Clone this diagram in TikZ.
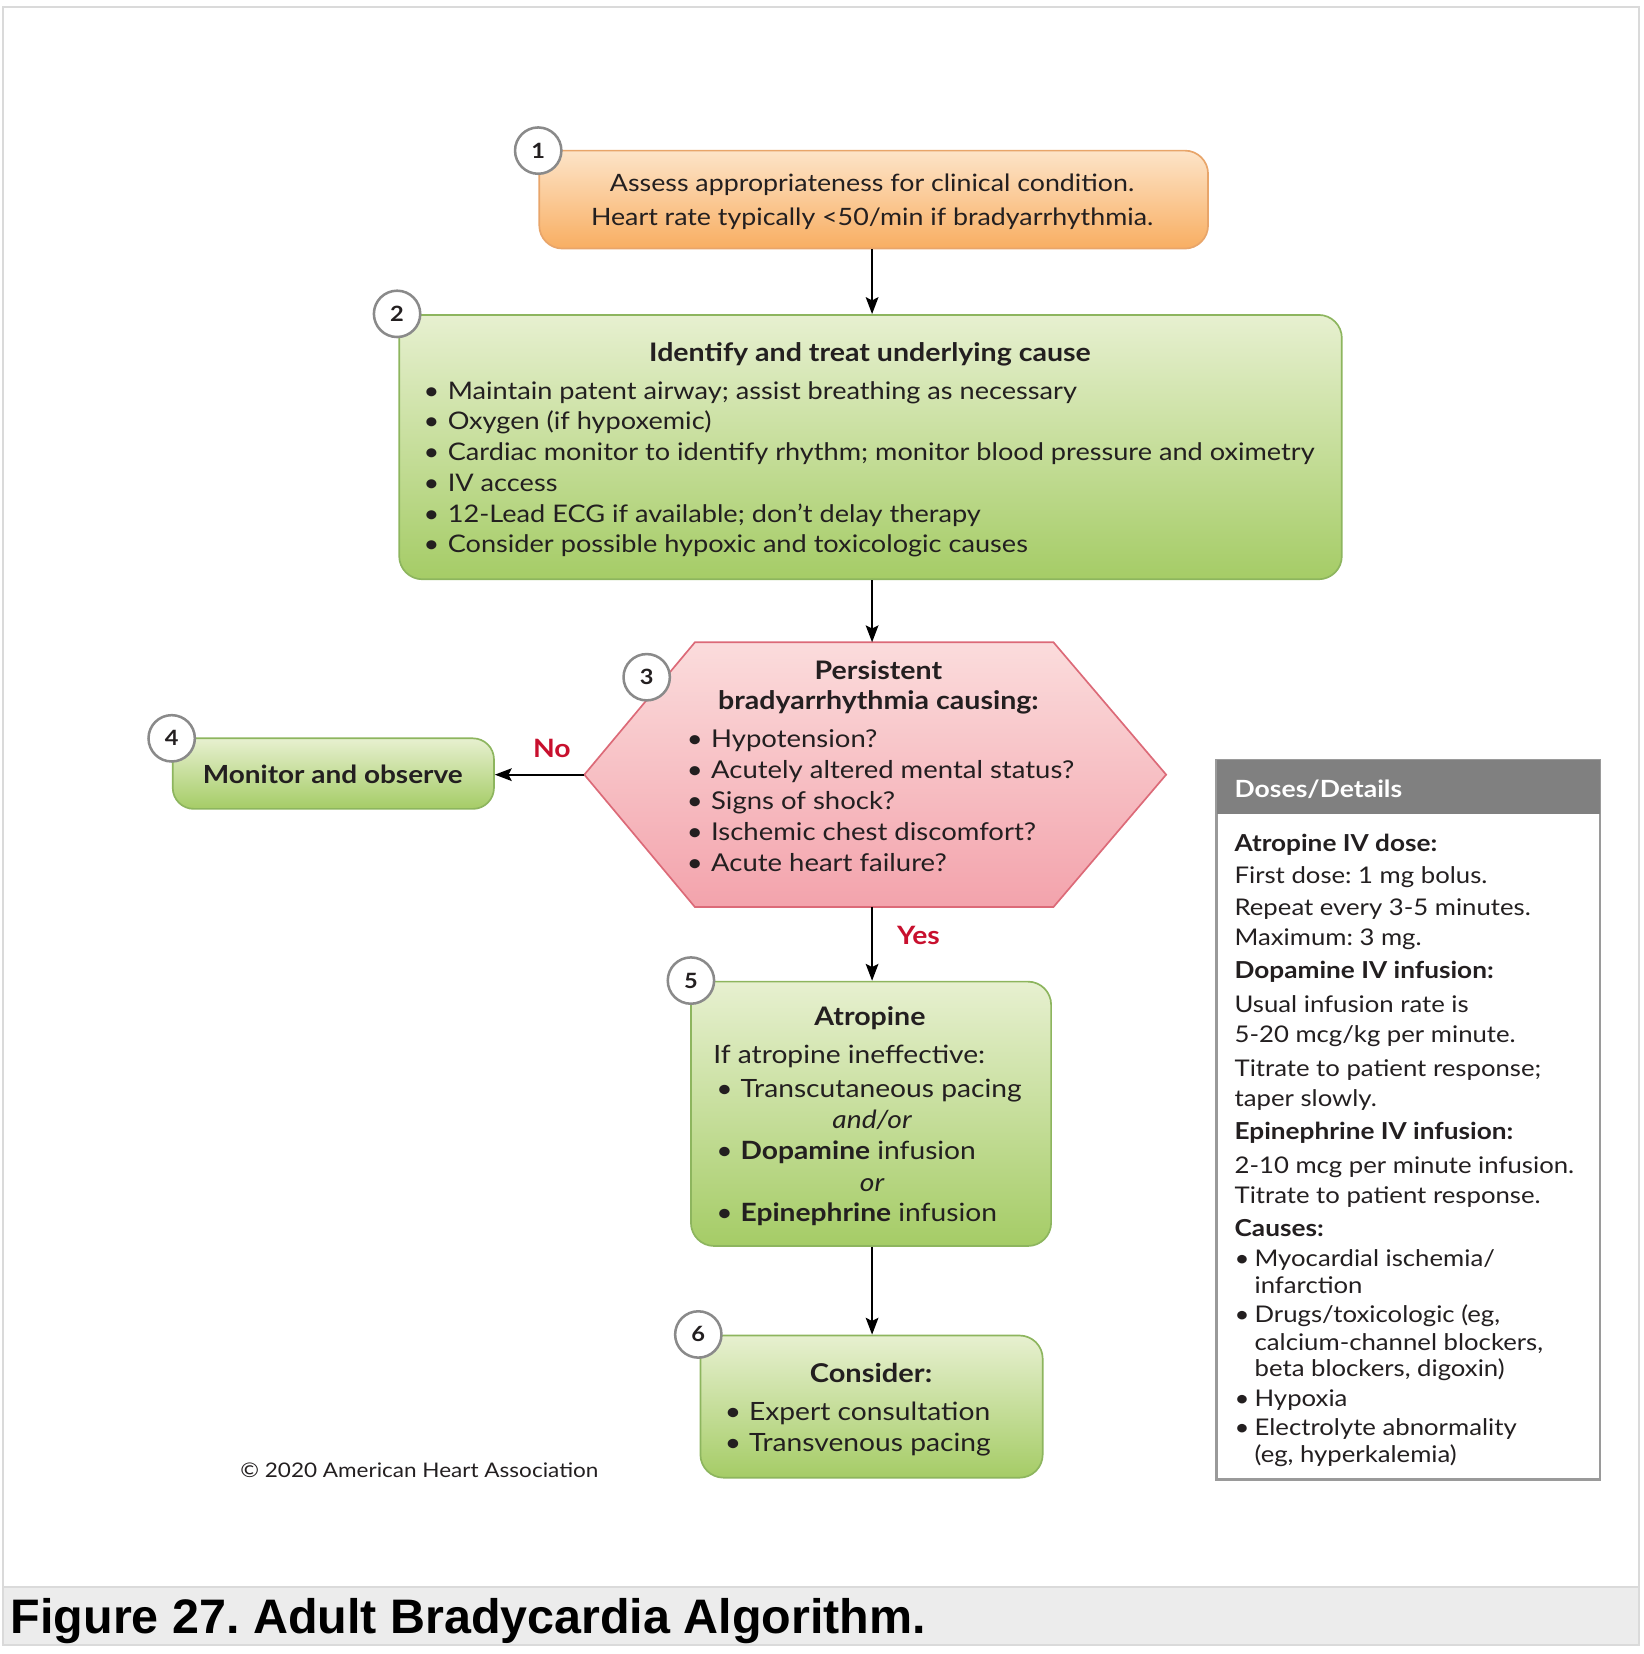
\documentclass[tikz,border=0pt]{standalone}
\usepackage{fontspec}
\setmainfont{Lato}[FakeStretch=1.12]
\newfontfamily\capfont{Liberation Sans}
\usetikzlibrary{arrows.meta,calc}
\frenchspacing
\definecolor{txt}{HTML}{231F20}
\definecolor{orTop}{HTML}{FDE4C8}
\definecolor{orBot}{HTML}{F8AE62}
\definecolor{orLine}{HTML}{E8A56A}
\definecolor{grTop}{HTML}{E7F0D0}
\definecolor{grBot}{HTML}{A5CC66}
\definecolor{grLine}{HTML}{8DB55E}
\definecolor{pkTop}{HTML}{FBDCDC}
\definecolor{pkBot}{HTML}{F3A3AC}
\definecolor{pkLine}{HTML}{DC6A78}
\definecolor{redlab}{HTML}{C8102E}
\definecolor{numLine}{HTML}{8A8A8A}
\definecolor{hdgray}{HTML}{808080}
\definecolor{dline}{HTML}{9A9A9A}
\definecolor{framegray}{HTML}{DADADA}
\definecolor{capgray}{HTML}{ECECEC}
\newcommand{\bul}[1]{\makebox[#1][l]{•}}
\newcommand{\fs}[1]{\fontsize{#1}{#1}\selectfont}
\tikzset{
  every node/.style={text=txt},
  gbox/.style={draw=grLine, line width=1.6pt, rounded corners=22pt, top color=grTop, bottom color=grBot, inner sep=0pt},
  obox/.style={draw=orLine, line width=1.6pt, rounded corners=22pt, top color=orTop, bottom color=orBot, inner sep=0pt},
  numc/.style={circle, draw=numLine, line width=2.4pt, fill=white, minimum size=44pt, inner sep=0pt, font=\fs{20}\bfseries},
  arr/.style={draw=black, line width=2pt, -{Stealth[length=16pt,width=12pt,inset=3pt]}},
  ltxt/.style={anchor=mid west, inner sep=0pt, font=\fs{23}},
  ctxt/.style={anchor=mid, inner sep=0pt, font=\fs{22.7}},
  btxt/.style={anchor=mid, inner sep=0pt, font=\fs{24.2}\bfseries},
  ftxt/.style={anchor=mid west, inner sep=0pt, font=\fs{23.9}},
  dtxt/.style={anchor=mid west, inner sep=0pt, font=\fs{21.8}},
  dbtxt/.style={anchor=mid west, inner sep=0pt, font=\fs{22.2}\bfseries},
  rlab/.style={anchor=mid, inner sep=0pt, text=redlab, font=\fs{24}\bfseries},
}
\begin{document}
\begin{tikzpicture}[x=1pt,y=-1pt]
\useasboundingbox (0,0) rectangle (1560,1570.4);
% frame and caption
\draw[framegray, line width=2pt] (2.5,1507) -- (2.5,7) -- (1556,7) -- (1556,1507);
\draw[fill=capgray, draw=framegray, line width=2pt] (2.5,1507) rectangle (1556,1562);
\node[anchor=mid west, inner sep=0pt, text=black, font=\capfont\bfseries\fontsize{46}{50}\selectfont] (cap) at (10,1548) {Figure 27. Adult Bradycardia Algorithm.};

% box 1
\node[obox, minimum width=635pt, minimum height=93pt] (b1) at (829.5,189.5) {};
\node[ctxt] (b1a) at (828,179.5) {Assess appropriateness for clinical condition.};
\node[ctxt] (b1b) at (828,211.5) {Heart rate typically <50/min if bradyarrhythmia.};
\node[numc] (n1) at (511,143) {1};

% box 2
\node[gbox, minimum width=895pt, minimum height=251pt] (b2) at (826.5,424.5) {};
\node[btxt] (b2t) at (826,340.5) {Identify and treat underlying cause};
\foreach \t [count=\i] in {{Maintain patent airway; assist breathing as necessary},{Oxygen (if hypoxemic)},{Cardiac monitor to identify rhythm; monitor blood pressure and oximetry},{IV access},{12-Lead ECG if available; don’t delay therapy},{Consider possible hypoxic and toxicologic causes}}
  \node[ltxt] (b2l\i) at (402,{376.5+29.2*(\i-1)}) {\bul{23pt}\t};
\node[numc] (n2) at (377,298) {2};

% hexagon 3
\node[inner sep=0pt, minimum width=552pt, minimum height=251pt] (hex) at (831,735.5) {};
\shade[top color=pkTop, bottom color=pkBot] (hex.west) -- ($(hex.north west)+(105,0)$) -- ($(hex.north east)+(-107,0)$) -- (hex.east) -- ($(hex.south east)+(-107,0)$) -- ($(hex.south west)+(105,0)$) -- cycle;
\draw[pkLine, line width=1.6pt, line join=miter] (hex.west) -- ($(hex.north west)+(105,0)$) -- ($(hex.north east)+(-107,0)$) -- (hex.east) -- ($(hex.south east)+(-107,0)$) -- ($(hex.south west)+(105,0)$) -- cycle;
\node[btxt] (h3a) at (834,642.5) {Persistent};
\node[btxt] (h3b) at (834,671.5) {bradyarrhythmia causing:};
\foreach \t [count=\i] in {{Hypotension?},{Acutely altered mental status?},{Signs of shock?},{Ischemic chest discomfort?},{Acute heart failure?}}
  \node[ltxt, font=\fs{23.3}] (h3l\i) at (652,{707.5+29.25*(\i-1)}) {\bul{23pt}\t};
\node[numc] (n3) at (614,643) {3};

% box 4
\node[gbox, rounded corners=20pt, minimum width=305pt, minimum height=67pt] (b4) at (316.5,734.5) {};
\node[btxt, font=\fs{23.7}\bfseries] (b4t) at (316,741.5) {Monitor and observe};
\node[numc] (n4) at (163,701) {4};

% box 5
\node[gbox, minimum width=342pt, minimum height=251pt] (b5) at (827,1057.5) {};
\node[btxt] (b5t) at (826,971.5) {Atropine};
\node[ftxt] (b5a) at (677,1007.5) {If atropine ineffective:};
\node[ftxt] (b5b) at (680,1039.5) {\bul{23pt}Transcutaneous pacing};
\node[anchor=mid, inner sep=0pt, font=\fs{23.9}\itshape] (b5c) at (828,1068.5) {and/or};
\node[ftxt] (b5d) at (680,1098.5) {\bul{23pt}\textbf{Dopamine} infusion};
\node[anchor=mid, inner sep=0pt, font=\fs{23.9}\itshape] (b5e) at (828,1128.5) {or};
\node[ftxt] (b5f) at (680,1157.5) {\bul{23pt}\textbf{Epinephrine} infusion};
\node[numc] (n5) at (656,931) {5};

% box 6
\node[gbox, minimum width=325pt, minimum height=135pt] (b6) at (827.5,1335.5) {};
\node[btxt, font=\fs{24.6}\bfseries] (b6t) at (827,1310) {Consider:};
\node[ftxt] (b6a) at (688,1346) {\bul{23pt}Expert consultation};
\node[ftxt] (b6b) at (688,1376) {\bul{23pt}Transvenous pacing};
\node[numc] (n6) at (663,1267) {6};

% copyright
\node[anchor=mid west, inner sep=0pt, font=\fs{19.1}] (copy) at (228,1400.5) {© 2020 American Heart Association};

% doses box
\node[draw=dline, line width=2.5pt, fill=white, minimum width=364pt, minimum height=683pt, inner sep=0pt] (dz) at (1337,1063.5) {};
\fill[hdgray] ($(dz.north west)+(1.25,1.25)$) rectangle ($(dz.north east)+(-1.25,52)$);
\node[anchor=mid west, inner sep=0pt, text=white, font=\fs{22.5}\bfseries] (dzh) at (1172,754.5) {Doses/Details};
\node[dbtxt] (d1) at (1172,805.5) {Atropine IV dose:};
\node[dtxt] (d2) at (1172,836.5) {First dose: 1 mg bolus.};
\node[dtxt] (d3) at (1172,866.5) {Repeat every 3-5 minutes.};
\node[dtxt] (d4) at (1172,895.5) {Maximum: 3 mg.};
\node[dbtxt] (d5) at (1172,926.5) {Dopamine IV infusion:};
\node[dtxt] (d6) at (1172,958.5) {Usual infusion rate is};
\node[dtxt] (d7) at (1172,987.5) {5-20 mcg/kg per minute.};
\node[dtxt] (d8) at (1172,1019.5) {Titrate to patient response;};
\node[dtxt] (d9) at (1172,1048.5) {taper slowly.};
\node[dbtxt] (d10) at (1172,1079.5) {Epinephrine IV infusion:};
\node[dtxt] (d11) at (1172,1111.5) {2-10 mcg per minute infusion.};
\node[dtxt] (d12) at (1172,1140.5) {Titrate to patient response.};
\node[dbtxt] (d13) at (1172,1171.5) {Causes:};
\node[dtxt] (d14) at (1172,1199.5) {\bul{19pt}Myocardial ischemia/};
\node[dtxt] (d15) at (1191,1225.5) {infarction};
\node[dtxt] (d16) at (1172,1253.5) {\bul{19pt}Drugs/toxicologic (eg,};
\node[dtxt] (d17) at (1191,1279.5) {calcium-channel blockers,};
\node[dtxt] (d18) at (1191,1304.5) {beta blockers, digoxin)};
\node[dtxt] (d19) at (1172,1332.5) {\bul{19pt}Hypoxia};
\node[dtxt] (d20) at (1172,1360.5) {\bul{19pt}Electrolyte abnormality};
\node[dtxt] (d21) at (1191,1386.5) {(eg, hyperkalemia)};

% connectors
\draw[arr] (b1.south -| 828,0) -- (b2.north -| 828,0);
\draw[arr] (b2.south -| 828,0) -- (hex.north -| 828,0);
\draw[arr] (hex.west) -- (b4.east |- hex.west);
\draw[arr] (hex.south -| 828,0) -- (b5.north -| 828,0);
\draw[arr] (b5.south -| 828,0) -- (b6.north -| 828,0);
\node[rlab] (no) at (524,716.5) {No};
\node[rlab] (yes) at (872,894.5) {Yes};
\end{tikzpicture}
\end{document}
